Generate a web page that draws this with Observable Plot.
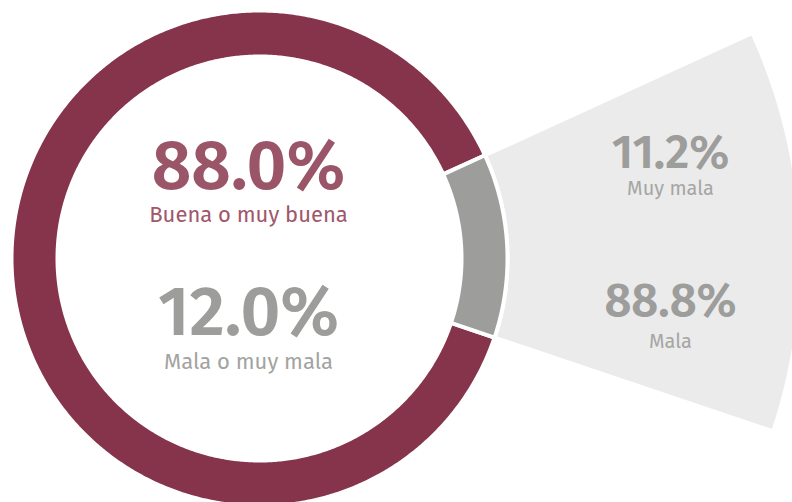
<!DOCTYPE html>
<html><head><meta charset="utf-8">
<script src="https://cdn.jsdelivr.net/npm/d3@7"></script>
<script src="https://cdn.jsdelivr.net/npm/@observablehq/plot@0.6"></script>
<style>body{margin:0;background:#fff}</style>
</head><body><div id="chart"></div>
<script>
// ---- data ----
const categories = ["Buena o muy buena", "Mala o muy mala"];
const shares = [88.0, 12.0];
const breakdownLabels = ["Muy mala", "Mala"];
const breakdownShares = [11.2, 88.8];

// ---- layout ----
const W = 792, H = 502, CX = 259, CY = 258;
const R_IN = 202, R_OUT = 248, FAN_IN = 248, FAN_OUT = 542;
const deg = Math.PI / 180;
const START = 108.6 * deg;
const FONT = "'Fira Sans', Roboto, sans-serif";

const pie = d3.pie().sort(null).value(d => d).startAngle(START).endAngle(START + 2 * Math.PI);
const arcs = pie(shares);

function arcPolygon(a0, a1, r0, r1, key) {
  const n = Math.max(2, Math.ceil((a1 - a0) / (0.5 * deg)));
  const pts = [];
  for (let i = 0; i <= n; i++) { const a = a0 + (a1 - a0) * i / n; pts.push({key, x: r1 * Math.sin(a), y: r1 * Math.cos(a)}); }
  for (let i = n; i >= 0; i--) { const a = a0 + (a1 - a0) * i / n; pts.push({key, x: r0 * Math.sin(a), y: r0 * Math.cos(a)}); }
  return pts;
}

const good = arcPolygon(arcs[0].startAngle, arcs[0].endAngle, R_IN, R_OUT, categories[0]);
const bad = arcPolygon(arcs[1].startAngle, arcs[1].endAngle, R_IN, R_OUT, categories[1]);
const fan = arcPolygon(arcs[1].startAngle, arcs[1].endAngle, FAN_IN, FAN_OUT, "fan");

const pct = v => v.toFixed(1) + "%";
const LX = 248 - CX, RX = 670 - CX;
const labels = [
  {x: LX, y: CY - 188, text: pct(shares[0]), size: 69, weight: 600, color: "#9B5568"},
  {x: LX, y: CY - 221, text: categories[0], size: 22, weight: 400, color: "#A0576B"},
  {x: LX, y: CY - 334, text: pct(shares[1]), size: 69, weight: 600, color: "#9D9D9B"},
  {x: LX, y: CY - 368, text: categories[1], size: 22, weight: 400, color: "#A3A3A1"},
  {x: RX, y: CY - 167, text: pct(breakdownShares[0]), size: 47, weight: 600, color: "#9D9D9B"},
  {x: RX, y: CY - 194, text: breakdownLabels[0], size: 20, weight: 400, color: "#A6A6A4"},
  {x: RX, y: CY - 315, text: pct(breakdownShares[1]), size: 47, weight: 600, color: "#9D9D9B"},
  {x: RX, y: CY - 347, text: breakdownLabels[1], size: 20, weight: 400, color: "#A6A6A4"}
];

const textMarks = labels.map(l => Plot.text([l], {
  x: "x", y: "y", text: "text", fill: l.color, fontSize: l.size, fontWeight: l.weight,
  fontFamily: FONT, textAnchor: "middle", lineAnchor: "bottom"
}));

const chart = Plot.plot({
  width: W, height: H, margin: 0,
  x: {domain: [-CX, W - CX], axis: null},
  y: {domain: [CY - H, CY], axis: null},
  style: {background: "white", fontFamily: FONT},
  marks: [
    Plot.line(fan, {x: "x", y: "y", z: "key", fill: "#EBEBEB", stroke: "white", strokeWidth: 4, curve: "linear-closed"}),
    Plot.line(good, {x: "x", y: "y", z: "key", fill: "#85344B", stroke: "white", strokeWidth: 4, curve: "linear-closed"}),
    Plot.line(bad, {x: "x", y: "y", z: "key", fill: "#9D9D9B", stroke: "white", strokeWidth: 4, curve: "linear-closed"}),
    ...textMarks
  ]
});
document.getElementById("chart").appendChild(chart);
</script>
</body></html>
